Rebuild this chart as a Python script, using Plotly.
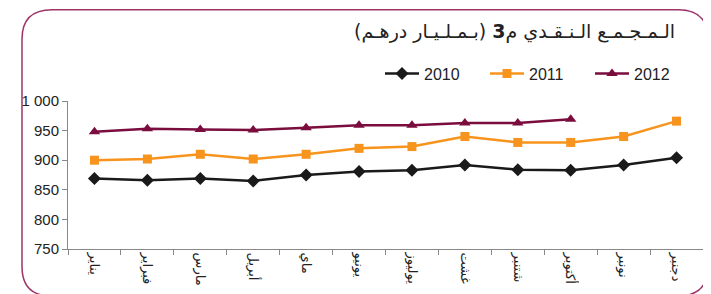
import plotly.graph_objects as go

months = ["يناير", "فبراير", "مارس", "أبريل", "ماي", "يونيو", "يوليوز", "غشت", "شتنبر", "أكتوبر", "نونبر", "دجنبر"]
s2010 = [869, 866, 869, 865, 875, 881, 883, 892, 884, 883, 892, 904]
s2011 = [900, 902, 910, 902, 910, 920, 923, 940, 930, 930, 940, 966]
s2012 = [948, 953, 952, 951, 955, 959, 959, 963, 963, 969]
series_names = ["2010", "2011", "2012"]
colors = ["#1a1a1a", "#F7941D", "#7A0C3E"]
symbols = ["diamond", "square", "triangle-up"]
ytickvals = [750, 800, 850, 900, 950, 1000]
yticktext = ["750", "800", "850", "900", "950", "1 000"]
title_text = "\u200fالـمـجـمـع الـنـقـدي م<b>3</b> (بـمـلـيـار درهـم)\u200f"

# page body has an 8px margin; figure is placed at (8, 8)
OFF = 8
W, H = 711 - OFF, 294 - OFF
L, R, T, B = 68 - OFF, 8, 101 - OFF, 294 - 252
pw, ph = W - L - R, H - T - B

def px(x):
    return (x - OFF - L) / pw

def py(y):
    return (H - B - (y - OFF)) / ph

NARROW = "Liberation Sans Narrow, Arial Narrow, Liberation Sans, Arial"

fig = go.Figure()
for name, vals, c, sym in zip(series_names, [s2010, s2011, s2012], colors, symbols):
    fig.add_trace(go.Scatter(
        x=months[:len(vals)], y=vals, name=name, mode="lines+markers",
        line=dict(color=c, width=2.5),
        marker=dict(symbol=sym, size=10 if sym != "square" else 9, color=c),
    ))

# rounded border
x0, x1, y0, y1, r = 22, 708, 8, 300, 30
path = (f"M {px(x0+r)},{py(y0)} L {px(x1-r)},{py(y0)} "
        f"Q {px(x1)},{py(y0)} {px(x1)},{py(y0+r)} "
        f"L {px(x1)},{py(y1-r)} Q {px(x1)},{py(y1)} {px(x1-r)},{py(y1)} "
        f"L {px(x0+r)},{py(y1)} Q {px(x0)},{py(y1)} {px(x0)},{py(y1-r)} "
        f"L {px(x0)},{py(y0+r)} Q {px(x0)},{py(y0)} {px(x0+r)},{py(y0)} Z")
fig.add_shape(type="path", path=path, xref="paper", yref="paper",
              line=dict(color="#9E3468", width=1.5), layer="below")

fig.add_annotation(text=title_text, xref="paper", yref="paper",
                   x=px(677), y=py(30), xanchor="right", yanchor="middle",
                   showarrow=False, font=dict(family="DejaVu Sans", size=19, color="#222"))

fig.update_layout(
    width=W, height=H,
    margin=dict(l=L, r=R, t=T, b=B),
    paper_bgcolor="white", plot_bgcolor="white",
    showlegend=True,
    legend=dict(orientation="h", x=px(380), y=py(73), xanchor="left", yanchor="middle",
                font=dict(family=NARROW, size=16, color="#222"),
                itemwidth=34, entrywidth=56, bgcolor="rgba(0,0,0,0)"),
    xaxis=dict(type="category", categoryarray=months, range=[-0.5, 11.5],
               showline=True, linecolor="#888", linewidth=1,
               ticks="outside", tickson="boundaries", ticklen=5, tickcolor="#888",
               tickangle=90, showgrid=False, zeroline=False,
               tickfont=dict(family="DejaVu Sans", size=13, color="#222")),
    yaxis=dict(range=[750, 1000], tickvals=ytickvals, ticktext=yticktext,
               showline=True, linecolor="#888", linewidth=1,
               ticks="outside", ticklen=5, tickcolor="#888",
               showgrid=False, zeroline=False,
               tickfont=dict(family=NARROW, size=15, color="#222")),
)

fig.write_html("out.html")
